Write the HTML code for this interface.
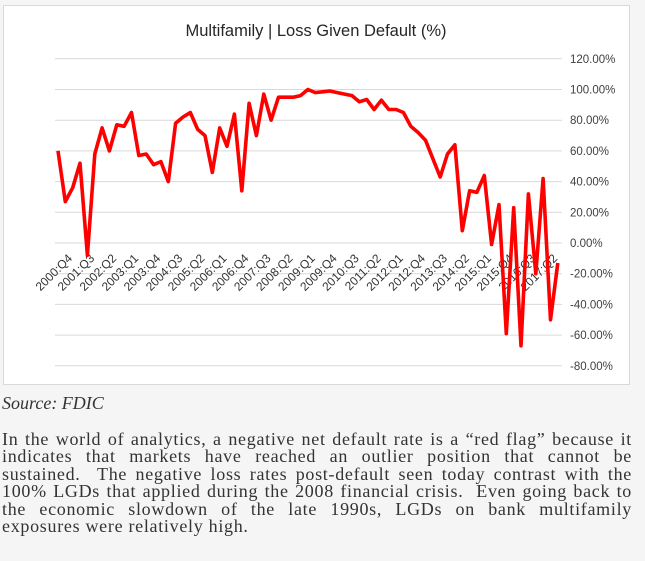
<!DOCTYPE html>
<html><head><meta charset="utf-8"><style>
body{margin:0;background:#f5f5f5;width:645px;height:561px;overflow:hidden;font-family:"Liberation Serif",serif;}
#chart{position:absolute;left:3px;top:5px;width:627px;height:380px;background:#fff;border:1px solid #d9d9d9;box-sizing:border-box;}
#src{position:absolute;left:2px;top:393px;font-style:italic;font-size:18px;color:#333;}
#para{position:absolute;left:2px;top:431px;width:630px;font-size:18px;letter-spacing:0.7px;line-height:17.4px;color:#333;text-align:justify;}
</style></head><body>
<div id="chart"></div>
<svg id="svg" width="645" height="561" style="position:absolute;left:0;top:0">
<text x="316" y="36" text-anchor="middle" font-family="Liberation Sans, sans-serif" font-size="16.5" fill="#262626">Multifamily | Loss Given Default (%)</text>
<g id="grid"></g><g id="xlab"></g><path id="line" fill="none" stroke="#ff0000" stroke-width="3.6" stroke-linejoin="round"></path>
</svg>
<div id="src">Source: FDIC</div>
<div id="para">In the world of analytics, a negative net default rate is a “red flag” because it indicates that markets have reached an outlier position that cannot be sustained.&nbsp; The negative loss rates post-default seen today contrast with the 100% LGDs that applied during the 2008 financial crisis.&nbsp; Even going back to the economic slowdown of the late 1990s, LGDs on bank multifamily exposures were relatively high.</div>
<script>
const values=[60,27,36,52,-8,58,75,60,77,76,85,57,58,51,53,40,78,82,85,74,70,46,75,63,84,34,91,70,97,80,95,95,95,96,100,98,98.5,99,98,97,96,92,93.5,87,93,87,87,85,76,72,67,55,43,58,64,8,34,33,44,-1,25,-59,23,-67,32,-20,42,-50,-13];
const yTicks=[120,100,80,60,40,20,0,-20,-40,-60,-80];
const startYear=2000, startQ=4;
const ns="http://www.w3.org/2000/svg";
const y=v=>243-v*1.535;
const x=i=>58+i*7.35;
const grid=document.getElementById('grid');
yTicks.forEach(t=>{
 const l=document.createElementNS(ns,'line');
 l.setAttribute('x1',55);l.setAttribute('x2',562);l.setAttribute('y1',y(t));l.setAttribute('y2',y(t));
 l.setAttribute('stroke','#d9d9d9');l.setAttribute('stroke-width','1');
 
 
 grid.appendChild(l);
 const tx=document.createElementNS(ns,'text');
 tx.setAttribute('x',570);tx.setAttribute('y',y(t)+4);
 tx.setAttribute('font-family','Liberation Sans, sans-serif');tx.setAttribute('font-size','11.5');tx.setAttribute('fill','#404040');
 tx.textContent=t.toFixed(2)+'%';
 
 
 grid.appendChild(tx);
});
const xl=document.getElementById('xlab');
for(let i=0;i<values.length;i+=3){
 const q=startQ-1+i;const yr=startYear+Math.floor(q/4);const qq=q%4+1;
 const tx=document.createElementNS(ns,'text');
 const ax=x(i)+15, ay=259;
 tx.setAttribute('x',ax);tx.setAttribute('y',ay);tx.setAttribute('text-anchor','end');
 tx.setAttribute('transform','rotate(-45 '+ax+' '+ay+')');
 tx.setAttribute('font-family','Liberation Sans, sans-serif');tx.setAttribute('font-size','12');tx.setAttribute('fill','#333');
 tx.textContent=yr+':Q'+qq;
 
 
 xl.appendChild(tx);
}
document.getElementById('line').setAttribute('d',values.map((v,i)=>(i?'L':'M')+x(i).toFixed(1)+' '+y(v).toFixed(1)).join(' '));
</script>
</body></html>
